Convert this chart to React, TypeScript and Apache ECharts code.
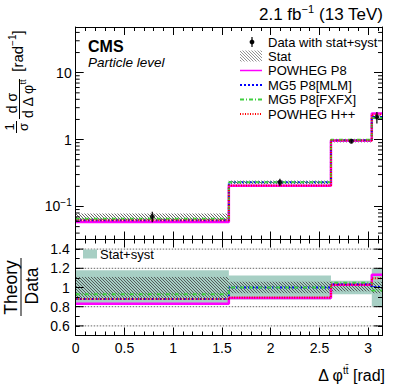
import React, { useEffect, useRef } from "react";
import * as echarts from "echarts";

// ---------- data ----------
const binEdges = [0, 1.5708, 2.618, 3.0369, 3.1416];
const dataValues = [0.0707, 0.23, 0.944, 2.17];
const dataTotalRel = [0.18, 0.125, 0.07, 0.195];
const dataStatRel = [0.11, 0.06, 0.04, 0.06];
const powhegP8 = [0.0587, 0.205, 0.972, 2.46];
const mg5MLM = [0.0622, 0.23, 0.977, 2.18];
const mg5FXFX = [0.0658, 0.23, 0.991, 2.1];
const powhegHpp = [0.0622, 0.206, 0.972, 2.38];

const xTickLabels = [0, 0.5, 1, 1.5, 2, 2.5, 3];
const logMinorTicks = [
  0.04, 0.05, 0.06, 0.07, 0.08, 0.09,
  0.2, 0.3, 0.4, 0.5, 0.6, 0.7, 0.8, 0.9,
  2, 3, 4, 5, 6, 7, 8, 9,
  20, 30, 40,
];
const ratioTickLabels = [0.6, 0.8, 1, 1.2, 1.4];
const ratioGridLines = [0.6, 0.8, 1, 1.2, 1.4];
const topRange = [0.0321, 48.2];
const ratioRange = [0.5, 1.5];

const FONT = "'Liberation Sans', Arial, Helvetica, sans-serif";
const TEAL = "#a7cfc4";
const HATCH = "#404040";

const models = [
  { name: "POWHEG P8", values: powhegP8, color: "#ff00ff", width: 2.5, type: "solid" as any },
  { name: "MG5 P8[MLM]", values: mg5MLM, color: "#0000ff", width: 2, type: [2, 2] as any },
  { name: "MG5 P8[FXFX]", values: mg5FXFX, color: "#3fcf3f", width: 2, type: [4, 2, 1, 2] as any },
  { name: "POWHEG H++", values: powhegHpp, color: "#ff0000", width: 2, type: [1, 1.5] as any },
];

function hatchSegments(L: number, T: number, R: number, B: number, step: number) {
  const segs: number[][] = [];
  const cStart = Math.ceil((T - R) / step) * step;
  for (let c = cStart; c <= B - L; c += step) {
    const xa = Math.max(L, T - c);
    const xb = Math.min(R, B - c);
    if (xb > xa) segs.push([xa, xa + c, xb, xb + c]);
  }
  return segs;
}

const stepData = (vals: number[]) => [
  ...vals.map((v, i) => [binEdges[i], v]),
  [binEdges[vals.length], vals[vals.length - 1]],
];

const hatchRender = (params: any, api: any) => {
  const p0 = api.coord([api.value(0), api.value(3)]);
  const p1 = api.coord([api.value(1), api.value(2)]);
  const segs = hatchSegments(p0[0], p0[1], p1[0], p1[1], 3);
  return {
    type: "group",
    children: segs.map((s) => ({
      type: "line",
      shape: { x1: s[0], y1: s[1], x2: s[2], y2: s[3] },
      style: { stroke: HATCH, lineWidth: 0.8 },
    })),
  };
};

const bandRender = (params: any, api: any) => {
  const p0 = api.coord([api.value(0), api.value(3)]);
  const p1 = api.coord([api.value(1), api.value(2)]);
  return {
    type: "rect",
    shape: { x: p0[0], y: p0[1], width: p1[0] - p0[0], height: p1[1] - p0[1] },
    style: { fill: TEAL },
  };
};

const tickRender = (len: number) => (params: any, api: any) => {
  const cs = params.coordSys;
  const y = api.coord([0, api.value(1)])[1];
  return {
    type: "group",
    children: [
      { type: "line", shape: { x1: cs.x, y1: y, x2: cs.x + len, y2: y }, style: { stroke: "#000", lineWidth: 1 } },
      { type: "line", shape: { x1: cs.x + cs.width - len, y1: y, x2: cs.x + cs.width, y2: y }, style: { stroke: "#000", lineWidth: 1 } },
    ],
  };
};

const gridLineRender = (params: any, api: any) => {
  const cs = params.coordSys;
  const y = api.coord([0, api.value(1)])[1];
  return {
    type: "line",
    shape: { x1: cs.x, y1: y, x2: cs.x + cs.width, y2: y },
    style: { stroke: "#666", lineWidth: 1, lineDash: [1.5, 1.5] },
  };
};

const axisLineStyle = { color: "#000", width: 1 };

function xAxisCfg(gridIndex: number, position: string, showLabels: boolean) {
  return {
    type: "value",
    gridIndex,
    position,
    min: binEdges[0],
    max: binEdges[binEdges.length - 1],
    interval: 0.5,
    z: 50,
    axisLine: { show: true, onZero: false, lineStyle: axisLineStyle },
    axisTick: { show: true, inside: true, length: 8, lineStyle: axisLineStyle },
    minorTick: { show: true, splitNumber: 5, length: 4, lineStyle: axisLineStyle },
    splitLine: { show: false },
    axisLabel: showLabels
      ? {
          show: true,
          margin: 5,
          color: "#000",
          fontSize: 14,
          fontFamily: FONT,
          formatter: (v: number) => (xTickLabels.some((t) => Math.abs(t - v) < 1e-6) ? String(+v.toFixed(1)) : ""),
        }
      : { show: false },
  };
}

function logAxisCfg(position: string, showLabels: boolean) {
  return {
    type: "log",
    gridIndex: 0,
    position,
    logBase: 10,
    min: topRange[0],
    max: topRange[1],
    z: 50,
    axisLine: { show: true, onZero: false, lineStyle: axisLineStyle },
    axisTick: { show: true, inside: true, length: 8, lineStyle: axisLineStyle },
    splitLine: { show: false },
    axisLabel: showLabels
      ? {
          show: true,
          margin: 4,
          color: "#000",
          fontSize: 14,
          fontFamily: FONT,
          formatter: (v: number) => {
            const e = Math.log10(v);
            const r = Math.round(e);
            if (Math.abs(e - r) > 1e-6) return "";
            if (r === 0) return "1";
            if (r === 1) return "10";
            return `{b|10}{s|${r < 0 ? "\u2212" + -r : r}}`;
          },
          rich: {
            b: { fontSize: 14, fontFamily: FONT, color: "#000", lineHeight: 18 },
            s: { fontSize: 10, fontFamily: FONT, color: "#000", lineHeight: 11, verticalAlign: "top" },
          },
        }
      : { show: false },
  };
}

function ratioAxisCfg(position: string, showLabels: boolean) {
  return {
    type: "value",
    gridIndex: 1,
    position,
    min: ratioRange[0],
    max: ratioRange[1],
    interval: 0.1,
    z: 50,
    axisLine: { show: true, onZero: false, lineStyle: axisLineStyle },
    axisTick: { show: true, inside: true, length: 4, lineStyle: axisLineStyle },
    splitLine: { show: false },
    axisLabel: showLabels
      ? {
          show: true,
          margin: 6,
          color: "#000",
          fontSize: 14,
          fontFamily: FONT,
          formatter: (v: number) =>
            ratioTickLabels.some((t) => Math.abs(t - v) < 1e-6) ? String(+v.toFixed(1)) : "",
        }
      : { show: false },
  };
}

function text(x: number, y: number, t: string, o: any = {}) {
  return {
    type: "text",
    x,
    y,
    z: 100,
    silent: true,
    rotation: o.rotation || 0,
    style: {
      text: t,
      fill: "#000",
      fontFamily: FONT,
      fontSize: o.size || 13,
      fontWeight: o.weight || "normal",
      fontStyle: o.style || "normal",
      align: o.align || "left",
      verticalAlign: "middle",
      rich: o.rich,
    },
  };
}

function line(x1: number, y1: number, x2: number, y2: number, stroke = "#000", lineWidth = 1, lineDash?: any) {
  return {
    type: "line",
    z: 100,
    silent: true,
    shape: { x1, y1, x2, y2 },
    style: { stroke, lineWidth, lineDash },
  };
}

function rich(size: number, sup: number) {
  return {
    a: { fontSize: size, fontFamily: FONT, color: "#000", lineHeight: Math.round(size * 1.25) },
    s: { fontSize: sup, fontFamily: FONT, color: "#000", lineHeight: sup + 1, verticalAlign: "top" },
  };
}

function buildGraphic() {
  const g: any[] = [];
  const R = Math.PI / 2;
  // header
  g.push(text(383, 14, "{a|2.1 fb}{s|\u22121}{a| (13 TeV)}", { align: "right", rich: rich(17, 11) }));
  g.push(text(88, 46, "CMS", { size: 16, weight: "bold" }));
  g.push(text(88, 62, "Particle level", { size: 13.5, style: "italic" }));

  // legend (top panel)
  const lx0 = 240, lx1 = 262, tx = 268;
  const rows = [42, 56, 70.5, 85, 99.5, 114];
  g.push(line(252, 37, 252, 47, "#000", 1.2));
  g.push({ type: "circle", z: 100, silent: true, shape: { cx: 252, cy: rows[0], r: 2.4 }, style: { fill: "#000" } });
  g.push(text(tx, rows[0], "Data with stat+syst", { size: 13 }));
  hatchSegments(lx0, 50.5, lx1, 61.5, 3).forEach((s) => g.push(line(s[0], s[1], s[2], s[3], "#777", 0.8)));
  g.push(text(tx, rows[1], "Stat", { size: 13 }));
  models.forEach((m, k) => {
    const y = rows[k + 2];
    g.push(line(lx0, y, lx1, y, m.color, k === 0 ? 1.5 : 1.8, Array.isArray(m.type) ? m.type : undefined));
    g.push(text(tx, y, m.name, { size: 13 }));
  });

  // legend (ratio panel)
  g.push({ type: "rect", z: 100, silent: true, shape: { x: 83, y: 249.5, width: 14, height: 9 }, style: { fill: TEAL } });
  g.push(text(100, 254, "Stat+syst", { size: 13 }));

  // y title, top panel
  g.push(text(9.5, 127, "1", { size: 13, align: "center", rotation: R }));
  g.push(line(16.5, 121, 16.5, 133, "#000", 1));
  g.push(text(23, 127, "\u03c3", { size: 13, align: "center", rotation: R }));
  g.push(text(12, 103, "d \u03c3", { size: 14, align: "center", rotation: R }));
  g.push(line(19.5, 79, 19.5, 119, "#000", 1));
  g.push(text(27.5, 99, "{a|d \u0394 \u03c6}{s|tt\u0304}", { align: "center", rotation: R, rich: rich(14, 9) }));
  g.push(text(17, 51, "{a|[rad}{s|\u22121}{a|]}", { align: "center", rotation: R, rich: rich(15, 10) }));

  // y title, ratio panel
  g.push(text(11, 287.5, "Theory", { size: 17.5, align: "center", rotation: R }));
  g.push(line(21, 258, 21, 316, "#000", 1));
  g.push(text(31.5, 286, "Data", { size: 17.5, align: "center", rotation: R }));

  // x title
  g.push(text(385, 375, "{a|\u0394 \u03c6}{s|tt\u0304}{a| [rad]}", { align: "right", rich: rich(16, 10) }));
  return g;
}

function buildOption() {
  const series: any[] = [];
  const centers = dataValues.map((_, i) => (binEdges[i] + binEdges[i + 1]) / 2);

  // ---------- top panel ----------
  series.push({
    type: "custom",
    xAxisIndex: 0,
    yAxisIndex: 0,
    silent: true,
    z: 2,
    encode: { x: [0, 1], y: [2, 3] },
    data: dataValues.map((v, i) => [binEdges[i], binEdges[i + 1], v * (1 - dataStatRel[i]), v * (1 + dataStatRel[i])]),
    renderItem: hatchRender,
  });
  models.forEach((m, k) => {
    series.push({
      type: "line",
      name: m.name,
      xAxisIndex: 0,
      yAxisIndex: 0,
      step: "end",
      symbol: "none",
      showSymbol: false,
      silent: true,
      z: 3 + k,
      data: stepData(m.values),
      lineStyle: { color: m.color, width: m.width, type: m.type },
    });
  });
  series.push({
    type: "custom",
    xAxisIndex: 0,
    yAxisIndex: 0,
    silent: true,
    z: 10,
    encode: { x: 0, y: [1, 2] },
    data: dataValues.map((v, i) => [centers[i], v * (1 - dataTotalRel[i]), v * (1 + dataTotalRel[i])]),
    renderItem: (params: any, api: any) => {
      const a = api.coord([api.value(0), api.value(1)]);
      const b = api.coord([api.value(0), api.value(2)]);
      return { type: "line", shape: { x1: a[0], y1: a[1], x2: b[0], y2: b[1] }, style: { stroke: "#000", lineWidth: 1.2 } };
    },
  });
  series.push({
    type: "scatter",
    xAxisIndex: 0,
    yAxisIndex: 0,
    silent: true,
    z: 11,
    symbol: "circle",
    symbolSize: 5,
    itemStyle: { color: "#000" },
    data: dataValues.map((v, i) => [centers[i], v]),
  });
  series.push({
    type: "custom",
    xAxisIndex: 0,
    yAxisIndex: 0,
    silent: true,
    z: 60,
    encode: { x: 0, y: 1 },
    data: logMinorTicks.map((v) => [0, v]),
    renderItem: tickRender(4),
  });

  // ---------- ratio panel ----------
  series.push({
    type: "custom",
    xAxisIndex: 2,
    yAxisIndex: 2,
    silent: true,
    z: 1,
    encode: { x: 0, y: 1 },
    data: ratioGridLines.map((v) => [0, v]),
    renderItem: gridLineRender,
  });
  series.push({
    type: "custom",
    xAxisIndex: 2,
    yAxisIndex: 2,
    silent: true,
    z: 2,
    encode: { x: [0, 1], y: [2, 3] },
    data: dataTotalRel.map((u, i) => [binEdges[i], binEdges[i + 1], 1 - u, 1 + u]),
    renderItem: bandRender,
  });
  series.push({
    type: "custom",
    xAxisIndex: 2,
    yAxisIndex: 2,
    silent: true,
    z: 3,
    encode: { x: [0, 1], y: [2, 3] },
    data: dataStatRel.map((u, i) => [binEdges[i], binEdges[i + 1], 1 - u, 1 + u]),
    renderItem: hatchRender,
  });
  models.forEach((m, k) => {
    series.push({
      type: "line",
      xAxisIndex: 2,
      yAxisIndex: 2,
      step: "end",
      symbol: "none",
      showSymbol: false,
      silent: true,
      z: 4 + k,
      data: stepData(m.values.map((v, i) => v / dataValues[i])),
      lineStyle: { color: m.color, width: m.width, type: m.type },
    });
  });
  series.push({
    type: "custom",
    xAxisIndex: 2,
    yAxisIndex: 2,
    silent: true,
    z: 60,
    encode: { x: 0, y: 1 },
    data: ratioTickLabels.map((v) => [0, v]),
    renderItem: tickRender(8),
  });

  return {
    animation: false,
    backgroundColor: "#fff",
    grid: [
      { left: 75.7, top: 27, width: 306.3, height: 212.5, outerBoundsMode: "none", containLabel: false },
      { left: 75.7, top: 239.5, width: 306.3, height: 96, outerBoundsMode: "none", containLabel: false },
    ],
    xAxis: [
      xAxisCfg(0, "bottom", false),
      xAxisCfg(0, "top", false),
      xAxisCfg(1, "bottom", true),
      xAxisCfg(1, "top", false),
    ],
    yAxis: [logAxisCfg("left", true), logAxisCfg("right", false), ratioAxisCfg("left", true), ratioAxisCfg("right", false)],
    series,
    graphic: buildGraphic(),
  };
}

export default function App() {
  const ref = useRef<HTMLDivElement>(null);
  useEffect(() => {
    if (!ref.current) return;
    const chart = echarts.init(ref.current, null, { renderer: "svg" });
    chart.setOption(buildOption() as any);
    return () => chart.dispose();
  }, []);
  return (
    <div
      ref={ref}
      style={{ position: "fixed", left: 0, top: 0, width: 399, height: 385, background: "#fff" }}
    />
  );
}
